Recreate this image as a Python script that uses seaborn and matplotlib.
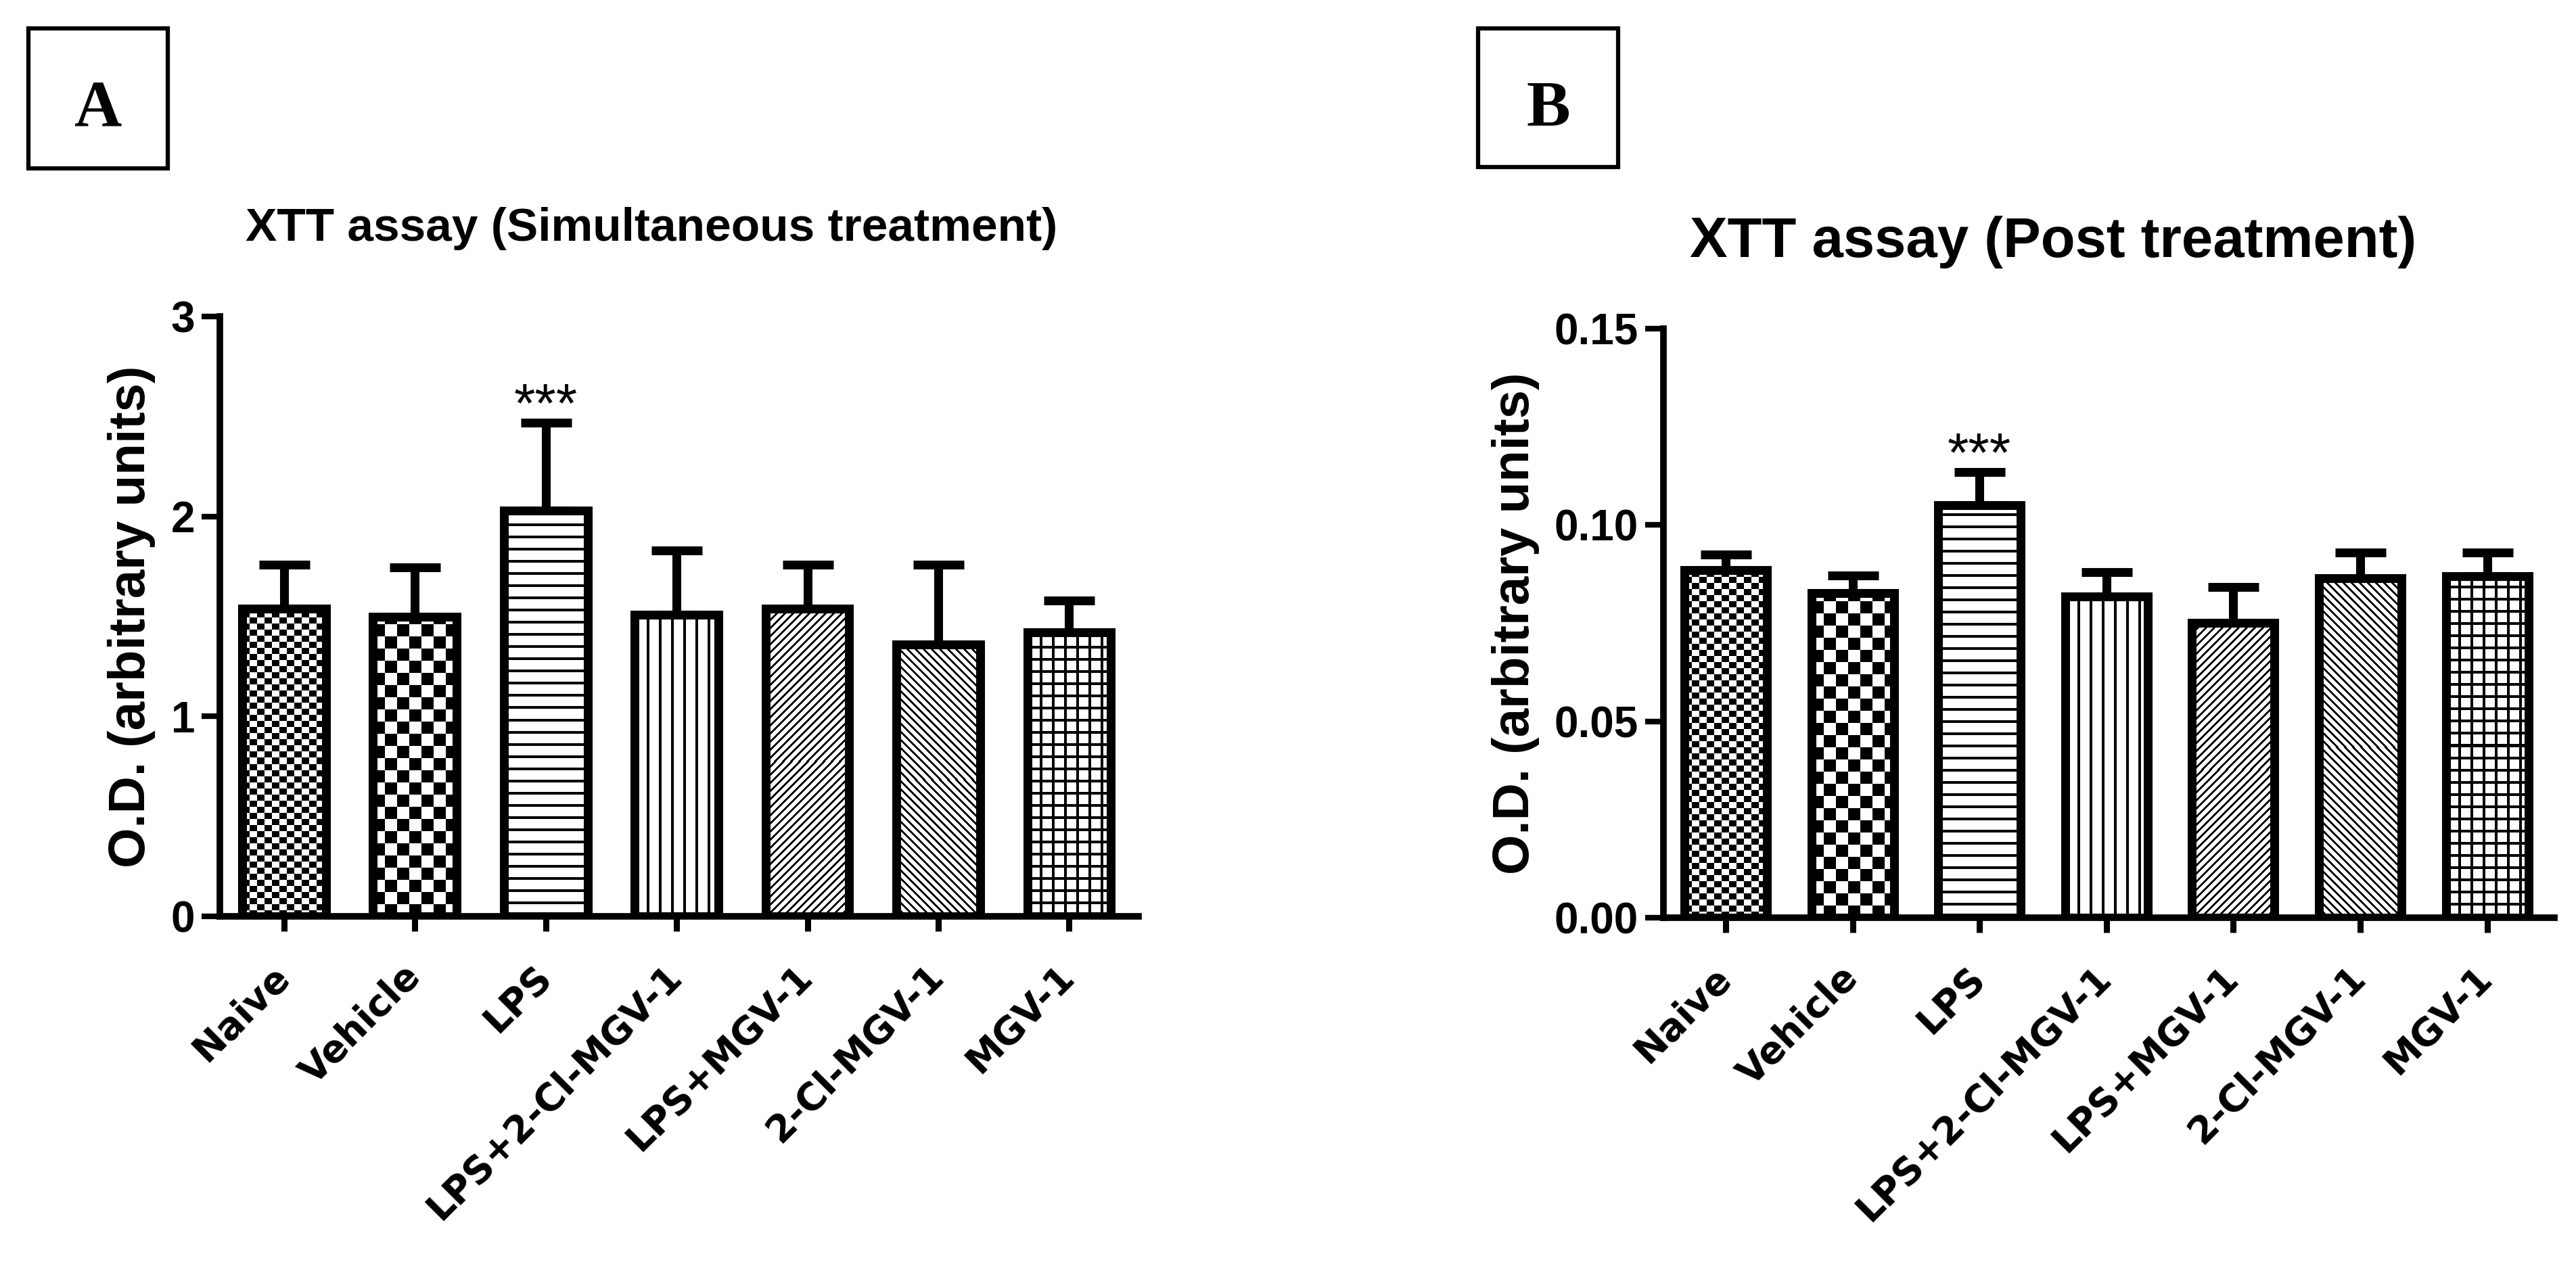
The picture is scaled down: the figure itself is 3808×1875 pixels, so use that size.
import numpy as np
import pandas as pd
import seaborn as sns
import matplotlib
matplotlib.use("Agg")
import matplotlib.pyplot as plt
from matplotlib.patches import Rectangle
from matplotlib.ticker import FormatStrFormatter

# Data (mean and upper error).
groups = ["Naive", "Vehicle", "LPS", "LPS+2-Cl-MGV-1", "LPS+MGV-1", "2-Cl-MGV-1", "MGV-1"]

simul_mean = [1.54, 1.50, 2.03, 1.51, 1.54, 1.36, 1.42]
simul_err = [0.22, 0.245, 0.44, 0.32, 0.22, 0.40, 0.16]

post_mean = [0.0885, 0.0826, 0.105, 0.0818, 0.0751, 0.0865, 0.087]
post_err = [0.004, 0.0045, 0.0085, 0.0062, 0.0091, 0.0065, 0.006]

simul_ticks = [0, 1, 2, 3]
post_ticks = [0.00, 0.05, 0.10, 0.15]

star_group = "LPS"
fill_kinds = ["fine_checker", "checker", "hline", "vline", "fdiag", "bdiag", "grid"]

sns.set_theme(style="ticks")
plt.rcParams["font.family"] = ["Liberation Sans", "DejaVu Sans"]
plt.rcParams["text.color"] = "black"
plt.rcParams["axes.labelcolor"] = "black"
plt.rcParams["xtick.color"] = "black"
plt.rcParams["ytick.color"] = "black"

W, H = 3808, 1875
fig = plt.figure(figsize=(W / 100, H / 100), dpi=100)

EDGE = 9.4  # bar outline, points


def fill_pattern(kind, hpx, wpx):
    ii, jj = np.mgrid[0:hpx, 0:wpx]
    if kind == "fine_checker":
        return ((ii // 9 + jj // 11) % 2).astype(float)
    if kind == "checker":
        return ((ii // 18 + jj // 18) % 2).astype(float)
    if kind == "hline":
        return ((ii % 18) < 4).astype(float)
    if kind == "vline":
        return ((jj % 18) < 4).astype(float)
    if kind == "fdiag":
        return (((jj - ii) % 12) < 4).astype(float)
    if kind == "bdiag":
        return (((jj + ii) % 12) < 4).astype(float)
    if kind == "grid":
        return (((ii % 18) < 4) | ((jj % 18) < 4)).astype(float)
    return np.zeros((hpx, wpx))


def draw_panel(ax, means, errs, ymax, yticks, fmt, bar_width):
    df = pd.DataFrame({"group": groups, "value": means})
    sns.barplot(data=df, x="group", y="value", ax=ax, width=bar_width,
                color="white", edgecolor="black", linewidth=EDGE,
                errorbar=None, zorder=1)
    xlim = (-0.49, len(groups) - 1 + 0.53)
    ax.set_xlim(*xlim)
    ax.set_ylim(0, ymax)

    # pattern fills drawn as pixel images under each bar outline
    for bar, kind in zip(ax.patches, fill_kinds):
        bar.set_facecolor("none")
        x0, y0 = bar.get_x(), bar.get_y()
        x1, y1 = x0 + bar.get_width(), y0 + bar.get_height()
        p0 = ax.transData.transform((x0, y0))
        p1 = ax.transData.transform((x1, y1))
        wpx = max(int(round(p1[0] - p0[0])), 1)
        hpx = max(int(round(p1[1] - p0[1])), 1)
        ax.imshow(fill_pattern(kind, hpx, wpx), cmap="gray_r", vmin=0, vmax=1,
                  extent=(x0, x1, y0, y1), origin="lower",
                  interpolation="nearest", aspect="auto", zorder=0.8)
    ax.set_xlim(*xlim)
    ax.set_ylim(0, ymax)

    xs = np.arange(len(groups))
    ax.errorbar(xs, means, yerr=[np.zeros(len(errs)), errs], fmt="none",
                ecolor="black", elinewidth=EDGE, capsize=27, capthick=EDGE,
                zorder=3)

    i = groups.index(star_group)
    ax.annotate("***", xy=(i, means[i] + errs[i]), xytext=(0, 1),
                textcoords="offset points", ha="center", va="baseline",
                fontsize=58, family="Liberation Sans", color="black")

    sns.despine(ax=ax)
    for side in ["left", "bottom"]:
        ax.spines[side].set_linewidth(7)
        ax.spines[side].set_color("black")

    ax.set_yticks(yticks)
    ax.yaxis.set_major_formatter(FormatStrFormatter(fmt))
    ax.tick_params(axis="y", length=19.5, width=6, pad=7, labelsize=46,
                   colors="black")
    ax.tick_params(axis="x", length=16, width=6.5, pad=42, colors="black")
    for lab in ax.get_yticklabels():
        lab.set_fontweight("bold")
    ax.set_xticks(xs)
    ax.set_xticklabels(groups, rotation=45, ha="right", va="center",
                       rotation_mode="anchor", fontfamily="DejaVu Sans",
                       fontweight="bold", fontsize=40, color="black")
    ax.set_xlabel("")
    ax.set_ylabel("O.D. (arbitrary units)", fontsize=55, fontweight="bold",
                  labelpad=16, color="black")
    ax.set_facecolor("white")


axA = fig.add_axes([325 / W, 1 - 1355 / H, (1683 - 325) / W, (1355 - 468) / H])
axB = fig.add_axes([2459 / W, 1 - 1357 / H, (3776 - 2459) / W, (1357 - 486) / H])

draw_panel(axA, simul_mean, simul_err, 3, simul_ticks, "%d", 0.64)
draw_panel(axB, post_mean, post_err, 0.15, post_ticks, "%.2f", 0.65)

fig.text(963 / W, 1 - 356 / H, "XTT assay (Simultaneous treatment)",
         ha="center", va="baseline", fontsize=50, fontweight="bold",
         color="black")
fig.text(3035 / W, 1 - 380 / H, "XTT assay (Post treatment)",
         ha="center", va="baseline", fontsize=60, fontweight="bold",
         color="black")

# panel letters in boxes
for (bx0, by0, bx1, by1), letter in [((42, 42, 248, 249), "A"),
                                      ((2185, 42, 2392, 247), "B")]:
    fig.add_artist(Rectangle((bx0 / W, 1 - by1 / H), (bx1 - bx0) / W,
                             (by1 - by0) / H, transform=fig.transFigure,
                             fill=False, edgecolor="black", linewidth=4.5))
    fig.text((bx0 + bx1) / 2 / W, 1 - 186 / H, letter, ha="center",
             va="baseline", fontsize=70, fontweight="bold",
             family="Liberation Serif", color="black")

fig.savefig("out.png", dpi=100, facecolor="white")
